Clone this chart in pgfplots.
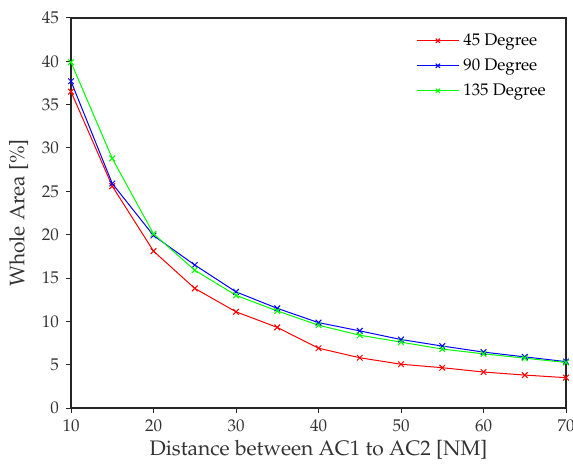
\documentclass[border=0pt]{standalone}
\usepackage[T1]{fontenc}
\usepackage{mathpazo}
\usepackage{pgfplots}
\pgfplotsset{compat=1.18}
\begin{document}
\begin{tikzpicture}
\begin{axis}[
    scale only axis,
    width=247.5pt, height=195pt,
    xmin=10, xmax=70,
    ymin=0, ymax=45,
    xtick={10,20,...,70},
    ytick={0,5,...,45},
    tick align=outside,
    xtick pos=bottom, ytick pos=left,
    major tick length=2.5pt,
    axis line style={line width=0.7pt, black!85},
    tick style={line width=0.5pt, black!85},
    tick label style={font=\fontsize{8.5}{9}\selectfont, text=black!80},
    label style={font=\fontsize{10.5}{12}\selectfont, text=black!80},
    xlabel={Distance between AC1 to AC2 [NM]},
    ylabel={Whole Area [\%]},
    xlabel style={yshift=3pt},
    legend style={draw=none, fill=none, at={(1,1)}, anchor=north east,
        xshift=-5pt, yshift=-3.5pt,
        font=\fontsize{8.4}{9}\selectfont, row sep=1.2pt},
    legend cell align=left,
    legend image code/.code={
        \draw[mark repeat=2, mark phase=2]
            plot coordinates {(0pt,0pt) (10.5pt,0pt) (21pt,0pt)};},
    legend image post style={mark size=1.5pt},
    every axis plot/.append style={line width=0.5pt, mark=x, mark size=2pt},
]
\addplot[color=red] coordinates {
(10,36.5)(15,25.6)(20,18.1)(25,13.8)(30,11.1)(35,9.3)(40,6.9)(45,5.8)(50,5.05)(55,4.65)(60,4.15)(65,3.8)(70,3.5)
};
\addlegendentry{45 Degree}
\addplot[color=blue] coordinates {
(10,37.7)(15,25.9)(20,19.9)(25,16.5)(30,13.4)(35,11.5)(40,9.85)(45,8.9)(50,7.9)(55,7.15)(60,6.45)(65,5.9)(70,5.35)
};
\addlegendentry{90 Degree}
\addplot[color=green] coordinates {
(10,39.9)(15,28.8)(20,20.1)(25,15.9)(30,13.0)(35,11.2)(40,9.55)(45,8.4)(50,7.6)(55,6.8)(60,6.25)(65,5.75)(70,5.25)
};
\addlegendentry{135 Degree}
\end{axis}
\pgfresetboundingbox
\path ([shift={(-35.5pt,-27.5pt)}]current axis.south west)
    rectangle ([shift={(3.5pt,9pt)}]current axis.north east);
\end{tikzpicture}
\end{document}
